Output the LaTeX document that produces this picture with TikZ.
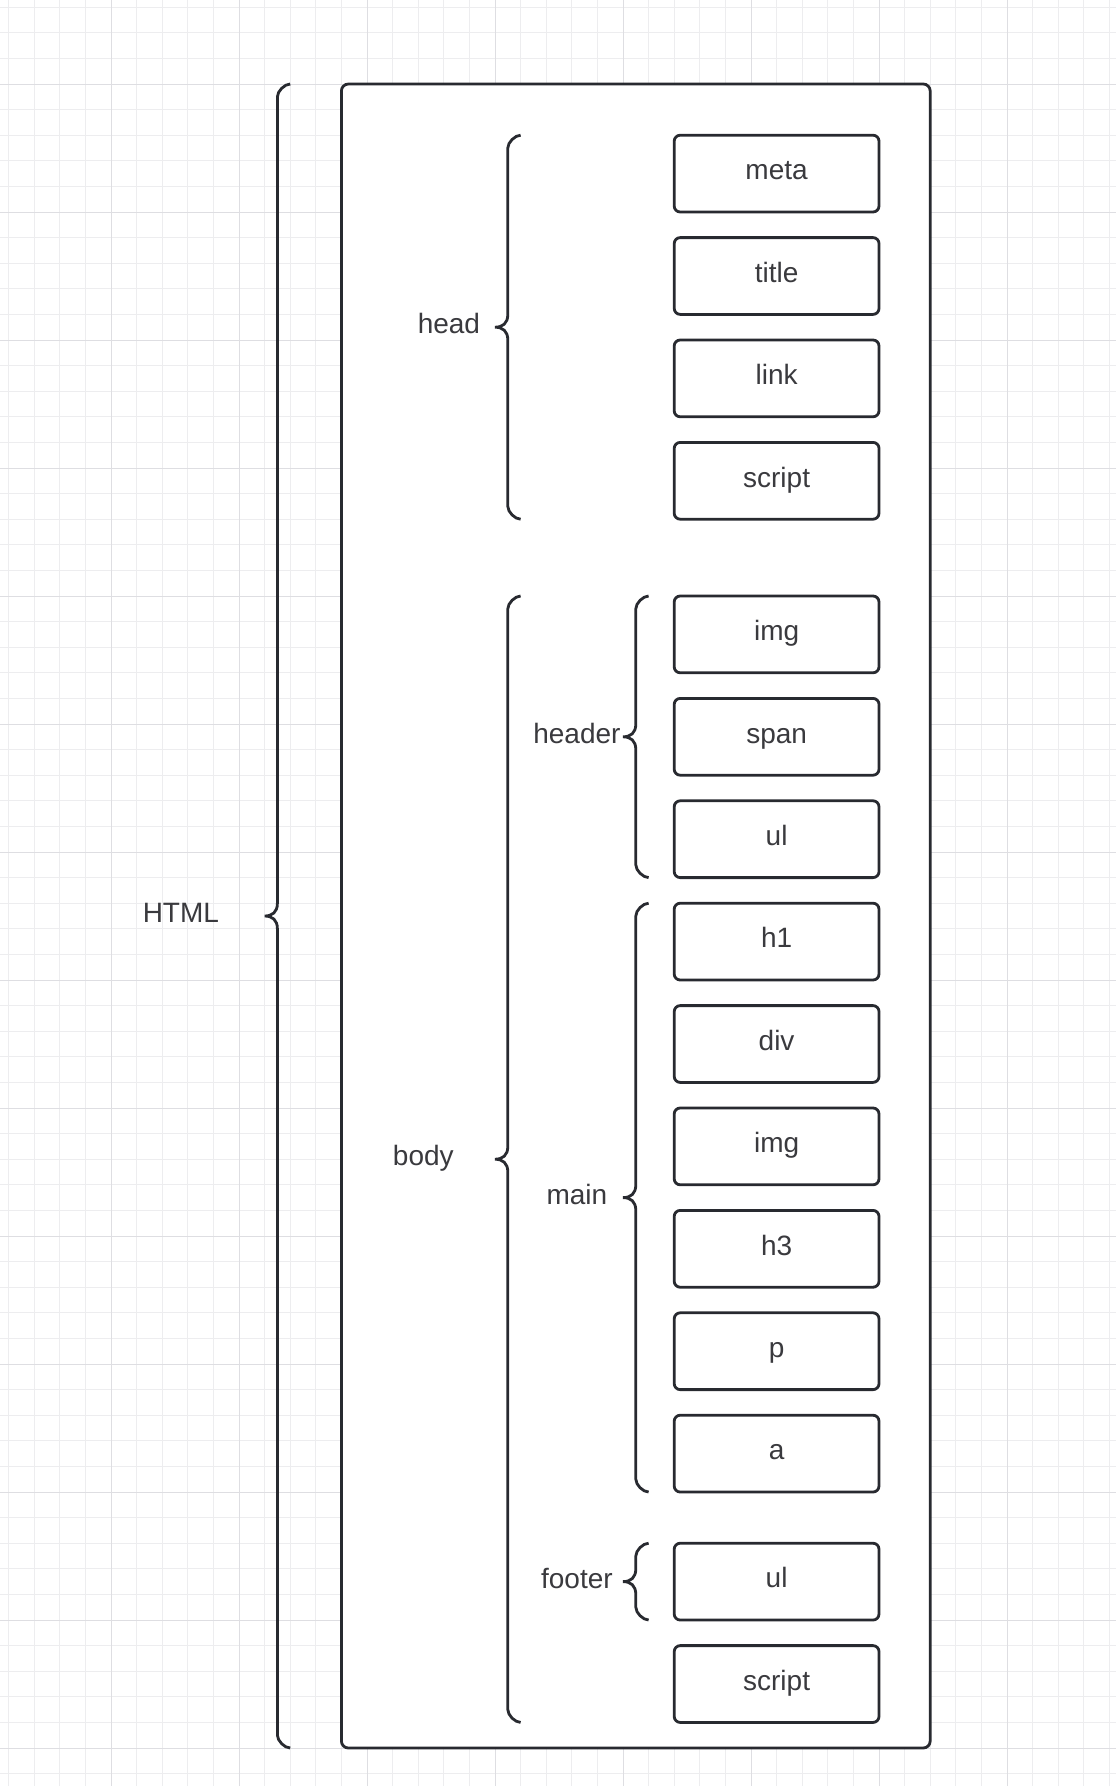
\documentclass[tikz,border=0pt]{standalone}
\usepackage{fontspec}
\setmainfont{Liberation Sans}
\usetikzlibrary{positioning}
\definecolor{ink}{RGB}{40,42,48}
\definecolor{txt}{RGB}{58,58,62}
\definecolor{gridmin}{RGB}{237,237,239}
\definecolor{gridmaj}{RGB}{222,222,226}

\tikzset{
    tag/.style={draw=ink, line width=1.4pt, rounded corners=3pt, fill=white, text=txt,
        minimum width=8*12.8pt, minimum height=3*12.8pt, text height=6.3pt, text depth=0pt},
    grplabel/.style={anchor=base, text=txt},
    brace/.style={draw=ink, line width=1.4pt},
    gridline/.style={draw=gridmin, line width=0.5pt},
    gridmajor/.style={draw=gridmaj, line width=0.5pt},
}

% curly brace: x of the open end, top, bottom
\newcommand{\grp}[3]{%
    \pgfmathsetmacro{\grpmid}{(#2+#3)/2}
    \draw[brace] (#1,#2) .. controls ({#1-0.22},#2) and ({#1-0.5},{#2+0.28}) .. ({#1-0.5},{#2+0.5})
        -- ({#1-0.5},{\grpmid-0.5}) .. controls ({#1-0.5},{\grpmid-0.15}) and ({#1-0.7},\grpmid) .. ({#1-1},\grpmid)
        .. controls ({#1-0.7},\grpmid) and ({#1-0.5},{\grpmid+0.15}) .. ({#1-0.5},{\grpmid+0.5})
        -- ({#1-0.5},{#3-0.5}) .. controls ({#1-0.5},{#3-0.28}) and ({#1-0.22},#3) .. (#1,#3);
}

\begin{document}
\begin{tikzpicture}[x=12.8pt, y=-12.8pt, font=\fontsize{14pt}{16pt}\selectfont]
    \fill[white] (-4.336,-3.281) rectangle (39.258,66.484);
    \useasboundingbox (-4.336,-3.281) rectangle (39.258,66.484);

    % background grid
    \foreach \gx in {-4,...,39}
        \draw[gridline] (\gx,-3.281) -- (\gx,66.484);
    \foreach \gy in {-3,...,66}
        \draw[gridline] (-4.336,\gy) -- (39.258,\gy);
    \foreach \gx in {0,5,...,35}
        \draw[gridmajor] (\gx,-3.281) -- (\gx,66.484);
    \foreach \gy in {0,5,...,65}
        \draw[gridmajor] (-4.336,\gy) -- (39.258,\gy);

    % page
    \draw[draw=ink, line width=1.4pt, rounded corners=3.5pt, fill=white] (9,0) rectangle (32,65);

    % elements
    \foreach \n/\t/\y in {meta/meta/3.5, title/title/7.5, link/link/11.5, hscript/script/15.5,
        img/img/21.5, span/span/25.5, hul/ul/29.5,
        hone/h1/33.5, div/div/37.5, img2/img/41.5, hthree/h3/45.5, p/p/49.5, a/a/53.5,
        ful/ul/58.5, fscript/script/62.5} {
        \node[tag] (\n) at (26,\y) {\t};
    }

    % groups
    \grp{7}{0}{65}
    \node[grplabel] (html) at (2.73,32.75) {HTML};
    \grp{16}{2}{17}
    \node[grplabel] (head) at (13.2,9.75) {head};
    \grp{16}{20}{64}
    \node[grplabel] (body) at (12.2,42.25) {body};
    \grp{21}{20}{31}
    \node[grplabel] (header) at (18.2,25.75) {header};
    \grp{21}{32}{55}
    \node[grplabel] (main) at (18.2,43.75) {main};
    \grp{21}{57}{60}
    \node[grplabel] (footer) at (18.2,58.75) {footer};
\end{tikzpicture}
\end{document}
